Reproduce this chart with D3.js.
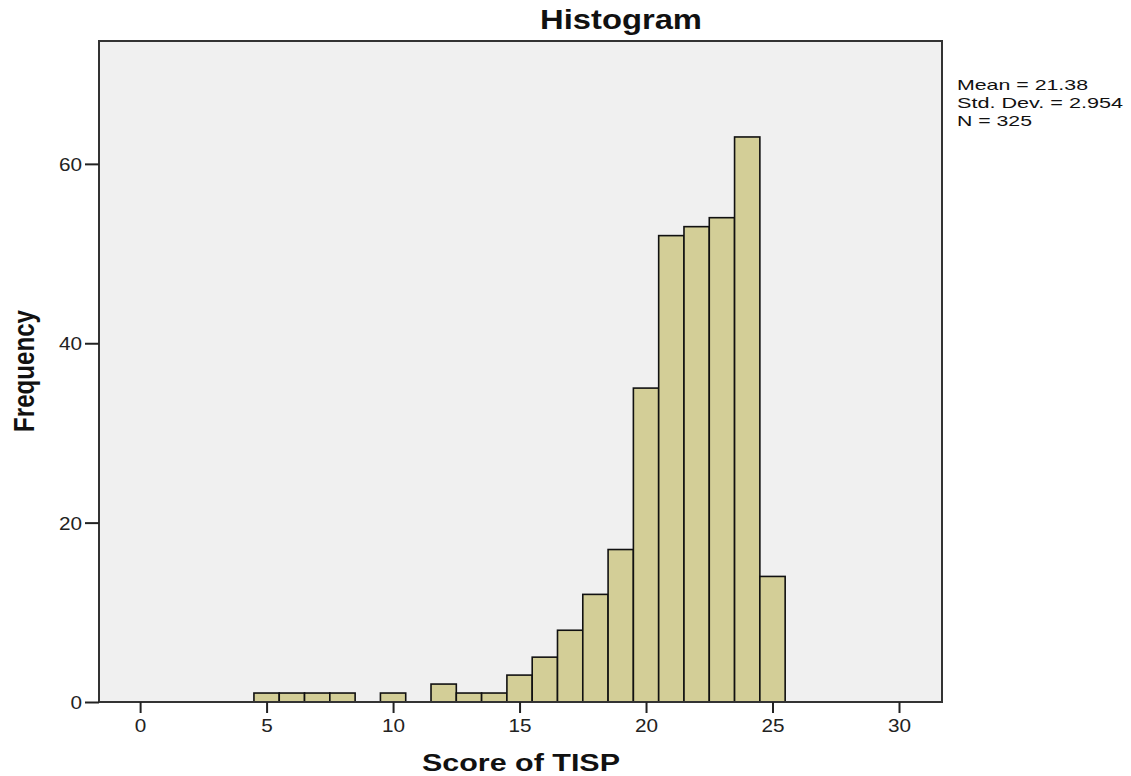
<!DOCTYPE html>
<html>
<head>
<meta charset="utf-8">
<script src="https://cdn.jsdelivr.net/npm/d3@7"></script>
<style>
  html, body { margin: 0; padding: 0; background: #ffffff; }
  svg { display: block; font-family: "Liberation Sans", Arial, sans-serif; }
</style>
</head>
<body>
<svg id="chart" width="1131" height="776"></svg>
<script>
// ---- data ----
const binCenters  = [5, 6, 7, 8, 10, 12, 13, 14, 15, 16, 17, 18, 19, 20, 21, 22, 23, 24, 25];
const frequencies = [1, 1, 1, 1, 1, 2, 1, 1, 3, 5, 8, 12, 17, 35, 52, 53, 54, 63, 14];
const binWidth = 1;
const xTicks = [0, 5, 10, 15, 20, 25, 30];
const yTicks = [0, 20, 40, 60];
const titleText = "Histogram";
const xLabelText = "Score of TISP";
const yLabelText = "Frequency";
const statsLines = ["Mean = 21.38", "Std. Dev. = 2.954", "N = 325"];

// ---- layout ----
const plot = { left: 99, top: 41, right: 942, bottom: 702 };
const svg = d3.select("#chart");

const x = d3.scaleLinear().domain([-1.625, 31.7]).range([plot.left, plot.right]);
const y = d3.scaleLinear().domain([0, 73.7]).range([plot.bottom, plot.top]);

// plot background
svg.append("rect")
  .attr("x", plot.left).attr("y", plot.top)
  .attr("width", plot.right - plot.left).attr("height", plot.bottom - plot.top)
  .attr("fill", "#f0f0f0");

// bars
svg.append("g").selectAll("rect")
  .data(binCenters.map((c, i) => ({ c, f: frequencies[i] })))
  .join("rect")
  .attr("x", d => x(d.c - binWidth / 2))
  .attr("width", d => x(d.c + binWidth / 2) - x(d.c - binWidth / 2))
  .attr("y", d => y(d.f))
  .attr("height", d => y(0) - y(d.f))
  .attr("fill", "#d3ce97")
  .attr("stroke", "#111")
  .attr("stroke-width", 1.6);

// frame
svg.append("rect")
  .attr("x", plot.left).attr("y", plot.top)
  .attr("width", plot.right - plot.left).attr("height", plot.bottom - plot.top)
  .attr("fill", "none")
  .attr("stroke", "#333")
  .attr("stroke-width", 2);

function stretch(sel, k) {
  sel.each(function () {
    const w = this.getComputedTextLength();
    d3.select(this).attr("textLength", w * k).attr("lengthAdjust", "spacingAndGlyphs");
  });
}

// x axis
const gx = svg.append("g")
  .attr("transform", `translate(0,${plot.bottom})`)
  .call(d3.axisBottom(x).tickValues(xTicks).tickSize(11).tickSizeOuter(0).tickFormat(d3.format("d")));
gx.select(".domain").remove();
gx.selectAll(".tick line").attr("stroke", "#222").attr("stroke-width", 2);
gx.selectAll(".tick text")
  .attr("y", 30).attr("dy", null)
  .attr("fill", "#222")
  .style("font-size", "18px")
  .call(stretch, 1.15);

// y axis
const gy = svg.append("g")
  .attr("transform", `translate(${plot.left},0)`)
  .call(d3.axisLeft(y).tickValues(yTicks).tickSize(14).tickSizeOuter(0).tickFormat(d3.format("d")));
gy.select(".domain").remove();
gy.selectAll(".tick line").attr("stroke", "#222").attr("stroke-width", 2);
gy.selectAll(".tick text")
  .attr("x", -17).attr("dy", "0.36em")
  .attr("fill", "#222")
  .style("font-size", "18px")
  .call(stretch, 1.15);

// title
svg.append("text")
  .attr("x", 621).attr("y", 29)
  .attr("text-anchor", "middle")
  .attr("textLength", 162).attr("lengthAdjust", "spacingAndGlyphs")
  .style("font-size", "27px").style("font-weight", "bold")
  .attr("fill", "#111")
  .text(titleText);

// x label
svg.append("text")
  .attr("x", 521).attr("y", 771)
  .attr("text-anchor", "middle")
  .attr("textLength", 198).attr("lengthAdjust", "spacingAndGlyphs")
  .style("font-size", "23.5px").style("font-weight", "bold")
  .attr("fill", "#111")
  .text(xLabelText);

// y label
svg.append("text")
  .attr("transform", "translate(34,371) scale(1.2,1) rotate(-90)")
  .attr("text-anchor", "middle")
  .attr("textLength", 122).attr("lengthAdjust", "spacingAndGlyphs")
  .style("font-size", "24px").style("font-weight", "bold")
  .attr("fill", "#111")
  .text(yLabelText);

// stats text
const statWidths = [131, 166, 75];
svg.append("g").selectAll("text")
  .data(statsLines)
  .join("text")
  .attr("x", 957)
  .attr("y", (d, i) => 90 + i * 18)
  .attr("textLength", (d, i) => statWidths[i]).attr("lengthAdjust", "spacingAndGlyphs")
  .style("font-size", "15px")
  .attr("fill", "#111")
  .text(d => d);
</script>
</body>
</html>
